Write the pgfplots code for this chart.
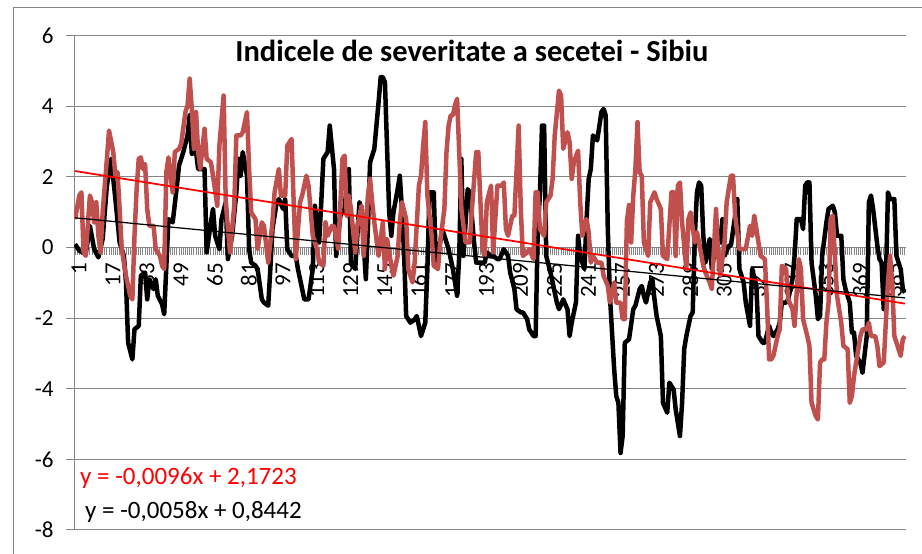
\documentclass[border=0pt]{standalone}
\usepackage{fontspec}
\setmainfont{Carlito}
\usepackage{pgfplots}
\pgfplotsset{compat=1.18}
\definecolor{sevred}{RGB}{192,80,77}
\definecolor{gridgray}{RGB}{134,134,134}

\begin{document}
\begin{tikzpicture}[x=1pt,y=1pt]
\useasboundingbox (0,0) rectangle (922,554);
% chart area frame (only its top and left edges are inside the picture)
\draw[gridgray,line width=1pt] (13,0) -- (13,546) -- (922,546);
\begin{axis}[at={(74pt,24pt)},anchor=south west,scale only axis,
  width=832pt,height=494.5pt,
  xmin=0.5,xmax=392.5,ymin=-8,ymax=6,
  axis x line=middle,axis y line=left,
  axis line style={gridgray,line width=1pt,-},
  hide obscured x ticks=false,hide obscured y ticks=false,
  ytick={-8,-6,...,6},yticklabels={-8,-6,-4,-2,0,2,4,6},
  xtick={1,17,...,385},minor xtick={1,...,392},
  ymajorgrids,grid style={gridgray,line width=1pt},
  tick style={gridgray,line width=1pt},
  major tick length=8pt,minor tick length=8pt,tick align=outside,
  xticklabel style={xshift=4pt,rotate=90,anchor=east},
  xticklabel shift=4pt,yticklabel shift=9pt,
  tick label style={font=\fontsize{23}{27}\selectfont,text=black},
  /pgf/number format/assume math mode=true,
  line join=round]
% black series
\addplot[black,line width=4.5pt] coordinates {
(1,0.09) (3,-0.09) (6,-0.19) (8,0.61) (10,-0.05) (12,-0.28) (14,0.24) (16,1.75)
(18,2.51) (20,1.37) (22,0.14) (24,-0.24) (25,-0.99) (26,-2.70) (28,-3.17) (29,-2.32)
(31,-2.22) (32,-0.80) (34,-0.71) (35,-1.47) (36,-0.90) (38,-1.18) (39,-0.90) (40,-1.37)
(42,-1.61) (43,-1.89) (45,0.80) (47,0.71) (49,1.75) (50,2.32) (52,2.70) (54,3.17)
(55,3.74) (56,2.65) (58,2.70) (59,2.22) (61,2.22) (62,2.22) (63,-0.14) (65,0.71)
(66,1.09) (67,0.33) (69,-0.05) (70,0.80) (72,1.28) (73,-0.33) (75,0.33) (77,1.56)
(78,2.51) (79,2.03) (80,2.70) (82,2.03) (83,-0.05) (84,-0.43) (86,-0.52) (87,-0.61)
(89,-1.47) (90,-1.56) (92,-1.65) (93,-0.61) (94,0.52) (96,1.28) (97,1.37) (99,1.09)
(100,1.37) (101,-0.05) (103,-0.24) (105,-0.24) (106,-0.61) (108,-1.18) (109,-1.47) (111,-1.47)
(113,-0.61) (114,1.18) (116,0.14) (117,1.28) (118,2.51) (120,2.70) (121,3.45) (123,2.22)
(124,-0.24) (126,0.90) (128,1.09) (129,1.75) (130,2.22) (131,-0.43) (133,-0.61) (135,1.28)
(136,1.09) (138,-0.90) (139,0.61) (140,2.41) (142,2.79) (143,3.45) (144,4.11) (145,4.82)
(146,4.82) (147,4.68) (149,0.99) (150,0.33) (151,0.99) (153,1.65) (154,2.03) (155,1.09)
(156,-0.14) (157,-1.94) (159,-2.13) (161,-2.04) (162,-1.94) (164,-2.51) (166,-2.13) (167,-0.61)
(168,1.56) (170,1.56) (171,-0.43) (173,0.14) (174,0.52) (176,0.14) (177,-0.05) (179,-0.61)
(181,-1.37) (182,-0.24) (183,2.51) (184,-0.24) (186,1.65) (187,1.56) (189,0.14) (190,-0.43)
(192,-0.43) (194,-0.43) (195,-0.14) (197,-0.24) (198,-0.24) (200,-0.33) (201,-0.33) (203,-0.05)
(205,-0.24) (206,-0.71) (208,-1.18) (209,-1.75) (211,-1.84) (212,-1.84) (214,-2.03) (215,-2.32)
(217,-2.51) (218,-2.51) (219,0.52) (220,1.47) (221,3.45) (222,3.45) (223,-0.24) (225,-0.71)
(226,-0.99) (228,-1.56) (229,-1.75) (231,-1.47) (233,-1.75) (234,-2.51) (235,-2.13) (237,-1.56)
(238,0.33) (239,-0.24) (241,-0.61) (242,0.80) (243,1.94) (244,2.22) (245,3.17) (247,3.03)
(249,3.83) (250,3.92) (251,3.74) (252,0.52) (253,-1.37) (255,-3.45) (256,-4.21) (257,-4.40)
(258,-5.82) (259,-5.34) (260,-2.70) (262,-2.60) (264,-1.75) (265,-1.65) (267,-1.18) (268,-1.09)
(269,-1.37) (270,-1.56) (272,-0.99) (273,-0.90) (274,-1.47) (275,-1.94) (277,-2.51) (278,-4.40)
(280,-4.68) (281,-3.83) (283,-4.02) (284,-4.59) (286,-5.34) (287,-4.40) (288,-2.88) (289,-2.51)
(291,-1.94) (292,-1.84) (293,0.33) (294,1.56) (295,1.84) (296,1.75) (297,0.33) (298,-0.43)
(300,0.24) (301,-0.61) (302,-0.24) (303,0.33) (305,0.14) (306,0.80) (307,-0.24) (309,0.05)
(310,0.05) (312,0.90) (313,1.37) (314,-0.61) (316,-0.99) (317,-1.56) (319,-2.22) (320,-0.61)
(322,-1.09) (323,-2.51) (325,-2.70) (326,-2.70) (328,-2.22) (329,-2.41) (330,-2.51) (332,-2.32)
(333,-2.13) (334,-1.56) (336,-1.56) (337,-1.47) (339,-0.90) (340,-0.24) (341,0.80) (343,0.80)
(344,0.52) (345,1.75) (346,1.84) (347,1.84) (348,-0.43) (350,-1.37) (351,-2.03) (352,-1.94)
(353,-0.24) (355,0.71) (356,1.09) (358,1.18) (359,0.99) (360,0.33) (362,0.33) (363,-0.90)
(364,-1.18) (366,-1.56) (367,-2.41) (368,-2.41) (369,-3.07) (371,-3.26) (372,-3.55) (374,-2.51)
(375,1.28) (376,1.47) (377,1.09) (379,0.05) (380,-0.33) (381,-0.43) (382,-1.75) (383,-0.99)
(384,1.56) (385,1.37) (387,1.37) (388,-0.24) (389,-0.43) (390,-0.61) (391,-1.18) (392,-1.28)};
% red series
\addplot[sevred,line width=4.5pt] coordinates {
(1,0.80) (3,1.47) (4,1.56) (5,-0.14) (6,-0.24) (8,1.47) (9,1.28) (10,0.71)
(11,1.28) (12,0.33) (13,-0.14) (14,0.99) (16,2.51) (17,3.31) (19,2.70) (20,2.03)
(21,2.13) (22,1.09) (23,-0.05) (24,-0.43) (25,-0.80) (27,-1.37) (28,-1.47) (29,0.33)
(30,1.65) (31,2.51) (32,2.55) (33,2.22) (34,2.36) (35,1.09) (36,0.61) (38,0.61)
(39,-0.05) (41,-0.24) (42,-0.52) (43,-0.61) (44,2.13) (45,2.55) (46,2.03) (47,1.56)
(48,2.70) (50,2.79) (51,2.93) (53,3.83) (54,4.02) (55,4.78) (56,3.92) (57,2.79)
(58,3.83) (59,2.70) (60,2.22) (61,2.80) (62,3.36) (63,2.51) (65,2.41) (66,2.03)
(68,1.18) (69,2.88) (71,4.30) (72,1.28) (74,-0.14) (76,1.18) (77,3.17) (79,3.17)
(80,3.26) (82,3.83) (83,2.22) (84,0.99) (86,0.80) (87,-0.05) (89,0.71) (90,0.61)
(92,-0.43) (94,0.71) (95,1.56) (97,2.22) (98,1.47) (100,1.47) (101,2.88) (103,3.07)
(104,1.28) (105,-0.33) (107,1.28) (108,1.47) (110,2.03) (111,1.75) (113,0.33) (115,-0.05)
(116,-0.43) (118,-0.52) (119,0.71) (120,0.33) (122,0.61) (123,0.61) (125,-0.05) (127,2.51)
(128,2.60) (129,0.90) (130,1.47) (131,1.09) (133,-0.14) (134,0.61) (136,1.18) (137,-0.24)
(139,1.47) (140,1.94) (141,1.28) (142,0.71) (144,-0.24) (146,0.71) (147,-0.61) (148,0.24)
(150,-0.52) (151,-0.80) (153,-0.24) (154,0.71) (155,1.28) (157,0.80) (158,-0.61) (160,-0.99)
(161,-0.43) (163,1.75) (164,2.03) (165,2.88) (166,3.55) (167,1.47) (169,0.33) (170,-0.52)
(172,-0.61) (173,0.14) (175,1.09) (176,2.70) (177,3.45) (178,3.74) (179,3.74) (180,4.02)
(181,4.21) (182,2.70) (183,1.09) (185,0.14) (187,0.14) (188,1.09) (190,2.70) (191,2.70)
(192,1.28) (193,-0.05) (194,-0.24) (195,1.28) (197,1.75) (198,-0.14) (200,1.75) (202,1.75)
(203,1.84) (204,0.52) (205,0.33) (207,0.90) (208,0.90) (210,3.45) (211,1.09) (212,-0.24)
(214,-0.14) (215,-0.05) (217,-0.33) (218,1.56) (219,1.56) (220,0.52) (222,0.33) (223,1.28)
(225,1.47) (226,1.94) (227,3.17) (229,4.44) (230,4.30) (231,2.79) (233,3.26) (234,2.98)
(235,1.94) (236,2.41) (238,2.74) (239,1.28) (240,0.33) (242,0.80) (243,0.43) (244,-0.43)
(245,-0.24) (247,-0.43) (249,-0.43) (250,-0.80) (252,-1.09) (253,-1.56) (255,-0.99) (256,-1.56)
(258,-1.56) (259,-2.03) (260,-2.03) (261,0.75) (262,1.20) (263,0.14) (264,1.47) (265,2.22)
(266,3.55) (267,2.13) (268,2.03) (269,0.14) (271,-0.24) (272,1.28) (274,1.56) (275,1.37)
(277,1.09) (278,-0.24) (280,-0.33) (282,1.56) (283,1.56) (284,-0.24) (285,1.75) (286,1.84)
(287,0.71) (289,-0.61) (290,0.80) (291,0.99) (293,0.14) (294,0.43) (295,0.14) (297,-0.52)
(298,-0.71) (300,-0.99) (301,-1.18) (303,1.09) (304,-0.24) (305,-0.80) (307,0.14) (308,1.28)
(310,2.03) (311,2.03) (312,0.90) (314,-0.05) (315,-0.05) (317,-0.05) (319,0.61) (320,0.33)
(321,0.90) (323,0.14) (324,-0.24) (326,-0.33) (327,-1.56) (328,-3.17) (329,-3.17) (330,-3.07)
(332,-2.51) (333,-2.32) (334,-0.52) (336,-0.61) (337,-1.47) (339,-1.75) (340,-2.22) (342,-0.33)
(343,-0.61) (344,-2.03) (346,-2.51) (347,-2.79) (348,-4.40) (350,-4.78) (351,-4.87) (352,-3.26)
(353,-3.17) (354,-3.17) (355,-2.13) (356,-1.56) (357,0.80) (358,0.90) (359,-0.24) (360,-1.37)
(362,-2.13) (363,-2.79) (365,-2.88) (366,-4.40) (367,-4.21) (368,-3.64) (370,-2.88) (371,-2.51)
(372,-2.32) (374,-2.32) (375,-2.13) (376,-2.51) (378,-2.51) (379,-2.79) (380,-3.36) (382,-3.26)
(383,-2.13) (384,-0.99) (385,-0.24) (386,-0.99) (387,-2.51) (389,-2.88) (390,-3.07) (391,-2.60)
(392,-2.51)};
% linear trends
\addplot[red,line width=1.75pt] coordinates {(1,2.1627) (392,-1.5909)};
\addplot[black,line width=1.25pt] coordinates {(1,0.8384) (392,-1.4294)};
\end{axis}
\node[font=\fontsize{30.5}{34}\selectfont\bfseries] at (472,503) {Indicele de severitate a secetei - Sibiu};
\node[anchor=west,inner sep=0pt,text=red,font=\fontsize{25}{29}\selectfont] at (80,76) {y = -0,0096x + 2,1723};
\node[anchor=west,inner sep=0pt,font=\fontsize{25}{29}\selectfont] at (85,42) {y = -0,0058x + 0,8442};
\end{tikzpicture}
\end{document}
